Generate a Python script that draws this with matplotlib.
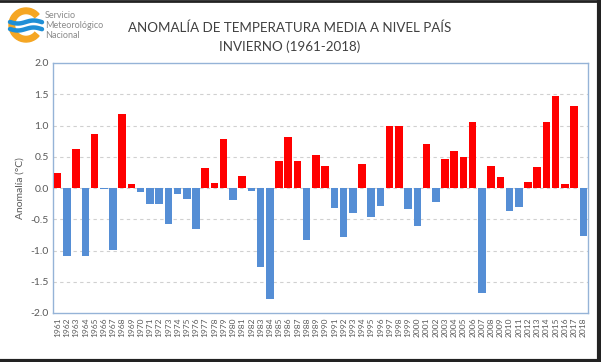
import numpy as np
import matplotlib.pyplot as plt
from matplotlib.patches import Wedge, Circle
from matplotlib.lines import Line2D

years = list(range(1961, 2019))
anomalia = [0.24, -1.09, 0.62, -1.08, 0.86, -0.02, -0.99, 1.18, 0.06, -0.07,
            -0.25, -0.26, -0.58, -0.09, -0.17, -0.65, 0.32, 0.08, 0.78, -0.19,
            0.20, -0.04, -1.27, -1.78, 0.43, 0.82, 0.43, -0.83, 0.53, 0.36,
            -0.32, -0.78, -0.40, 0.39, -0.47, -0.28, 0.99, 0.99, -0.34, -0.61,
            0.71, -0.23, 0.46, 0.60, 0.49, 1.05, -1.68, 0.35, 0.17, -0.37,
            -0.30, 0.10, 0.33, 1.05, 1.48, 0.07, 1.31, -0.76]
yticks = [-2.0, -1.5, -1.0, -0.5, 0.0, 0.5, 1.0, 1.5, 2.0]

plt.rcParams['font.family'] = ['Lato', 'DejaVu Sans']

W, H = 601, 362
fig = plt.figure(figsize=(W / 100, H / 100), dpi=100)
fig.patch.set_facecolor('white')

ax = fig.add_axes([53 / W, 1 - 313 / H, (588 - 53) / W, (313 - 63) / H])
x = np.arange(len(years))
cols = ['#ff0000' if v >= 0 else '#558ed5' for v in anomalia]
ax.bar(x, anomalia, width=0.82, color=cols, zorder=3)

ax.set_xlim(-0.5, len(years) - 0.5)
ax.set_ylim(-2.0, 2.0)
ax.set_yticks(yticks)
ax.set_yticklabels([f"{t:.1f}" for t in yticks], fontsize=7.5, color='#595959')
ax.set_xticks(x)
ax.set_xticklabels([str(y) for y in years], rotation=90, fontsize=6, color='#595959')
ax.tick_params(axis='both', length=0, pad=3)
for t in yticks[1:-1]:
    ax.axhline(t, color='#d0d0d0', lw=0.8, ls=(0, (3, 3)), zorder=1)
for s in ax.spines.values():
    s.set_color('#95b3d7')
    s.set_linewidth(1.0)
ax.set_ylabel('Anomalía (°C)', fontsize=7.5, color='#595959', labelpad=4)

# title
fig.text(290 / W, 1 - 28 / H, 'ANOMALÍA DE TEMPERATURA MEDIA A NIVEL PAÍS',
         ha='center', va='center', fontsize=9.6, color='#404040')
fig.text(290 / W, 1 - 47 / H, 'INVIERNO (1961-2018)',
         ha='center', va='center', fontsize=9.6, color='#404040')

# logo
lax = fig.add_axes([0, 1 - 50 / H, 50 / W, 50 / H])
lax.set_xlim(0, 50)
lax.set_ylim(50, 0)
lax.set_aspect('equal')
lax.axis('off')
lax.add_patch(Wedge((26, 25), 17, 40, 320, width=7, color='#f5a623'))
lax.add_patch(Circle((26, 25), 10, color='white'))
tt = np.linspace(10, 42, 40)
lax.plot(tt, 22 + 1.5 * np.sin((tt - 10) / 5), color='#1f8fd6', lw=3.2, solid_capstyle='round')
lax.plot(tt, 29 + 1.5 * np.sin((tt - 10) / 5), color='#1f8fd6', lw=3.2, solid_capstyle='round')
for i, s in enumerate(['Servicio', 'Meteorológico', 'Nacional']):
    fig.text(45 / W, 1 - (15 + 10 * i) / H, s, fontsize=6.5, color='#8a8a8a', va='center')

# frame around the picture
fig.add_artist(Line2D([0, 1], [1 - 1 / H, 1 - 1 / H], transform=fig.transFigure, color='#222222', lw=2))
fig.add_artist(Line2D([0, 1], [1 / H, 1 / H], transform=fig.transFigure, color='#222222', lw=3))
fig.add_artist(Line2D([1 - 2 / W, 1 - 2 / W], [0, 1], transform=fig.transFigure, color='#222222', lw=3))

fig.savefig('out.png', dpi=100)
